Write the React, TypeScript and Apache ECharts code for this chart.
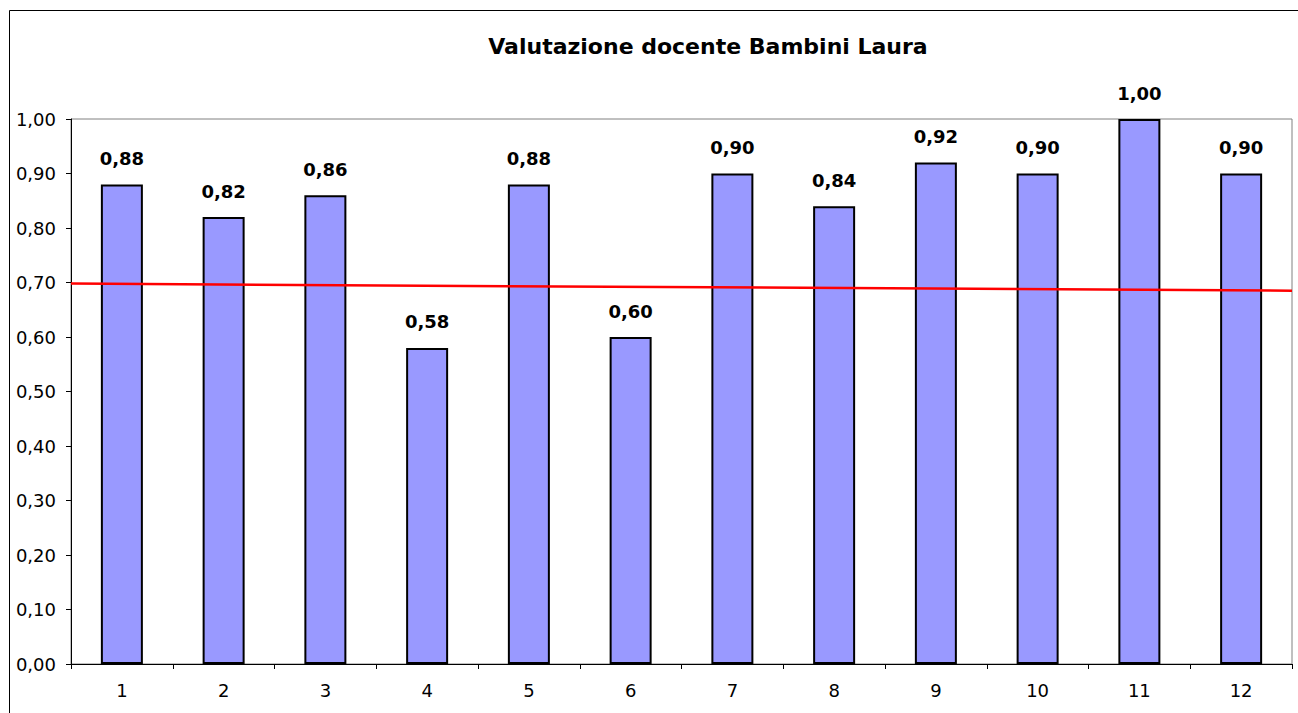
import React, { useEffect, useRef } from "react";
import * as echarts from "echarts";

const categories = ["1", "2", "3", "4", "5", "6", "7", "8", "9", "10", "11", "12"];
const valutazioni = [0.88, 0.82, 0.86, 0.58, 0.88, 0.6, 0.9, 0.84, 0.92, 0.9, 1.0, 0.9];
const lineaX = [0, 12];
const lineaY = [0.698, 0.685];
const titolo = "Valutazione docente Bambini Laura";

const fmt = (v: number) => v.toFixed(2).replace(".", ",");
const FONT = "'DejaVu Sans', Verdana, sans-serif";

export default function App() {
  const ref = useRef<HTMLDivElement>(null);
  useEffect(() => {
    if (!ref.current) return;
    const chart = echarts.init(ref.current, null, { renderer: "svg" });
    chart.setOption({
      animation: false,
      backgroundColor: "#ffffff",
      textStyle: { fontFamily: FONT },
      title: {
        text: titolo,
        left: 703,
        top: 30,
        textAlign: "center",
        textStyle: { fontFamily: FONT, fontSize: 22, fontWeight: "bold", color: "#000" },
      },
      graphic: [
        {
          type: "rect",
          shape: { x: 9.5, y: 10.5, width: 1400, height: 900 },
          style: { fill: "none", stroke: "#000", lineWidth: 1 },
          silent: true,
        },
      ],
      grid: {
        left: 71,
        top: 119,
        right: 6,
        bottom: 49,
        show: true,
        borderColor: "#808080",
        borderWidth: 1,
        backgroundColor: "transparent",
      },
      xAxis: [
        {
          type: "category",
          data: categories,
          axisLine: { lineStyle: { color: "#000", width: 1 } },
          axisTick: { show: true, length: 5, lineStyle: { color: "#000" } },
          axisLabel: { color: "#000", fontSize: 18, fontFamily: FONT, margin: 17 },
          splitLine: { show: false },
        },
        {
          type: "value",
          min: 0,
          max: 12,
          show: false,
          gridIndex: 0,
        },
      ],
      yAxis: {
        type: "value",
        min: 0,
        max: 1,
        interval: 0.1,
        axisLine: { show: true, lineStyle: { color: "#000", width: 1 } },
        axisTick: { show: true, length: 5, lineStyle: { color: "#000" } },
        axisLabel: { color: "#000", fontSize: 18, fontFamily: FONT, margin: 15, formatter: (v: number) => fmt(v) },
        splitLine: { show: false },
      },
      series: [
        {
          type: "bar",
          data: valutazioni,
          barWidth: 42,
          itemStyle: { color: "#9999FF", borderColor: "#000", borderWidth: 2 },
          label: {
            show: true,
            position: "top",
            distance: 17,
            color: "#000",
            fontSize: 18,
            fontWeight: "bold",
            fontFamily: FONT,
            formatter: (p: any) => fmt(p.value),
          },
          z: 2,
        },
        {
          type: "line",
          xAxisIndex: 1,
          data: lineaX.map((x, i) => [x, lineaY[i]]),
          symbol: "none",
          lineStyle: { color: "#FF0000", width: 2.5 },
          z: 3,
        },
      ],
    });
    return () => chart.dispose();
  }, []);
  return (
    <div
      ref={ref}
      style={{ position: "fixed", left: 0, top: 0, width: 1298, height: 713 }}
    />
  );
}
